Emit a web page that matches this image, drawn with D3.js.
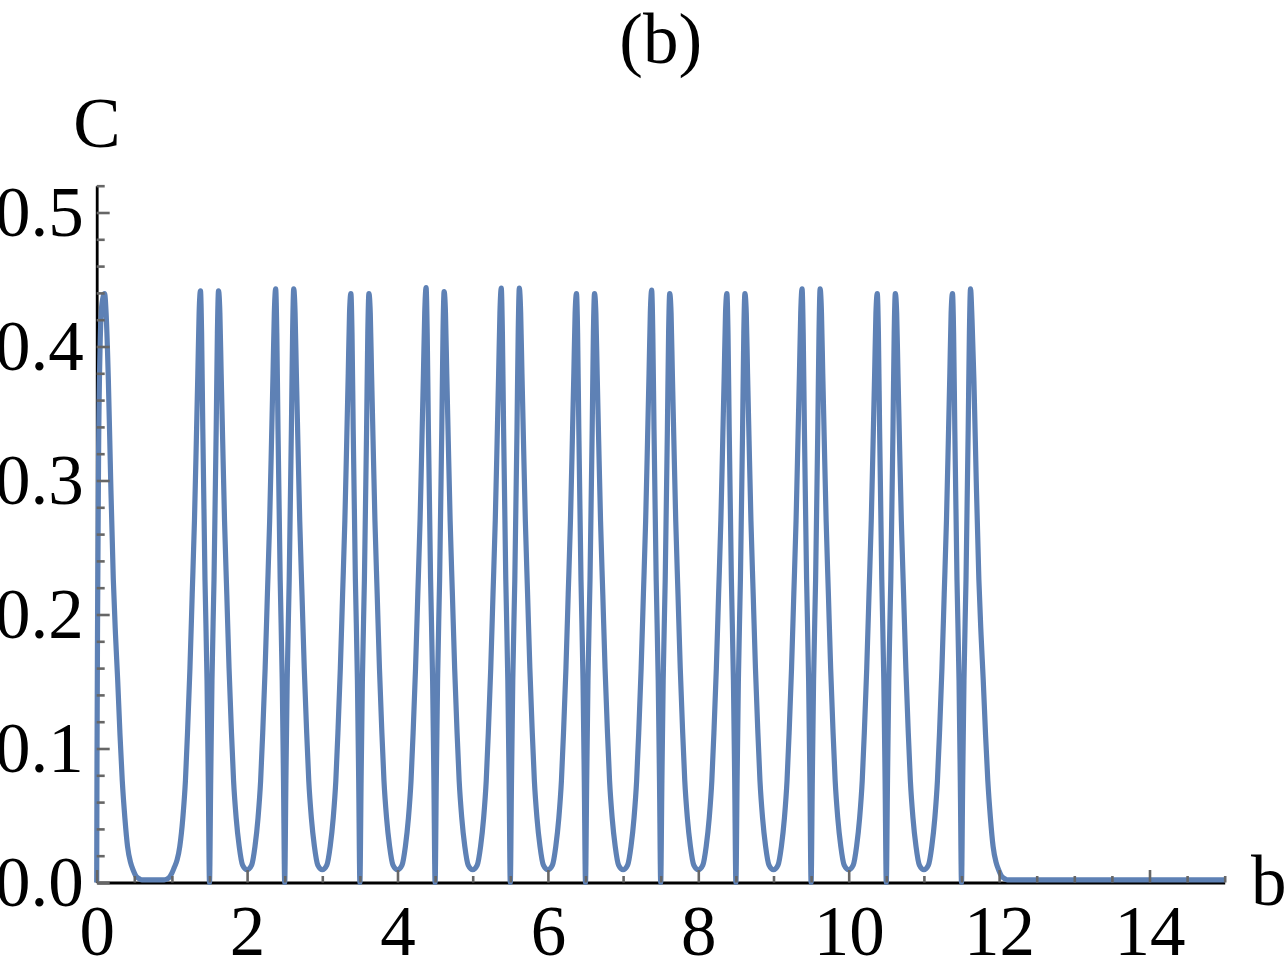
<!DOCTYPE html>
<html><head><meta charset="utf-8">
<script src="https://cdn.jsdelivr.net/npm/d3@7"></script>
<style>html,body{margin:0;padding:0;background:#fff;} svg{display:block;}</style>
</head><body>
<svg id="chart" width="1287" height="959"></svg>
<script>
const title = "(b)";
const xLabel = "b";
const yLabel = "C";
const xMajorTicks = [0, 2, 4, 6, 8, 10, 12, 14];
const xMinorTicks = [0.5, 1, 1.5, 2.5, 3, 3.5, 4.5, 5, 5.5, 6.5, 7, 7.5, 8.5, 9, 9.5, 10.5, 11, 11.5, 12.5, 13, 13.5, 14.5, 15];
const yMajorTicks = [0, 0.1, 0.2, 0.3, 0.4, 0.5];
const yMinorTicks = [0.02, 0.04, 0.06, 0.08, 0.12, 0.14, 0.16, 0.18, 0.22, 0.24, 0.26, 0.28, 0.32, 0.34, 0.36, 0.38, 0.42, 0.44, 0.46, 0.48, 0.52];

const bValues = [
  0,0.004,0.012,0.025,0.045,0.07,0.105,0.125,0.155,0.186,0.221,0.25,0.279,0.31,0.34,0.375,0.41,0.45,0.487,0.52,0.56,0.6,0.9,0.95,0.98,
  1.0,1.03,1.07,1.105,1.145,1.18,1.21,1.24,1.27,1.30,1.325,1.345,1.362,1.38,1.395,1.411,1.44,1.467,1.484,1.5,1.516,1.533,1.56,1.589,1.605,1.62,1.638,1.655,1.675,1.70,1.73,1.76,1.79,1.82,1.855,1.895,1.94,
  2.0,2.06,2.105,2.145,2.18,2.21,2.24,2.27,2.30,2.325,2.345,2.362,2.38,2.395,2.411,2.44,2.467,2.484,2.5,2.516,2.533,2.56,2.589,2.605,2.62,2.638,2.655,2.675,2.70,2.73,2.76,2.79,2.82,2.855,2.895,2.94,
  3.0,3.06,3.105,3.145,3.18,3.21,3.24,3.27,3.30,3.325,3.345,3.362,3.38,3.395,3.411,3.44,3.467,3.484,3.5,3.516,3.533,3.56,3.589,3.605,3.62,3.638,3.655,3.675,3.70,3.73,3.76,3.79,3.82,3.855,3.895,3.94,
  4.0,4.06,4.105,4.145,4.18,4.21,4.24,4.27,4.30,4.325,4.345,4.362,4.38,4.395,4.411,4.44,4.467,4.484,4.5,4.516,4.533,4.56,4.589,4.605,4.62,4.638,4.655,4.675,4.70,4.73,4.76,4.79,4.82,4.855,4.895,4.94,
  5.0,5.06,5.105,5.145,5.18,5.21,5.24,5.27,5.30,5.325,5.345,5.362,5.38,5.395,5.411,5.44,5.467,5.484,5.5,5.516,5.533,5.56,5.589,5.605,5.62,5.638,5.655,5.675,5.70,5.73,5.76,5.79,5.82,5.855,5.895,5.94,
  6.0,6.06,6.105,6.145,6.18,6.21,6.24,6.27,6.30,6.325,6.345,6.362,6.38,6.395,6.411,6.44,6.467,6.484,6.5,6.516,6.533,6.56,6.589,6.605,6.62,6.638,6.655,6.675,6.70,6.73,6.76,6.79,6.82,6.855,6.895,6.94,
  7.0,7.06,7.105,7.145,7.18,7.21,7.24,7.27,7.30,7.325,7.345,7.362,7.38,7.395,7.411,7.44,7.467,7.484,7.5,7.516,7.533,7.56,7.589,7.605,7.62,7.638,7.655,7.675,7.70,7.73,7.76,7.79,7.82,7.855,7.895,7.94,
  8.0,8.06,8.105,8.145,8.18,8.21,8.24,8.27,8.30,8.325,8.345,8.362,8.38,8.395,8.411,8.44,8.467,8.484,8.5,8.516,8.533,8.56,8.589,8.605,8.62,8.638,8.655,8.675,8.70,8.73,8.76,8.79,8.82,8.855,8.895,8.94,
  9.0,9.06,9.105,9.145,9.18,9.21,9.24,9.27,9.30,9.325,9.345,9.362,9.38,9.395,9.411,9.44,9.467,9.484,9.5,9.516,9.533,9.56,9.589,9.605,9.62,9.638,9.655,9.675,9.70,9.73,9.76,9.79,9.82,9.855,9.895,9.94,
  10.0,10.06,10.105,10.145,10.18,10.21,10.24,10.27,10.30,10.325,10.345,10.362,10.38,10.395,10.411,10.44,10.467,10.484,10.5,10.516,10.533,10.56,10.589,10.605,10.62,10.638,10.655,10.675,10.70,10.73,10.76,10.79,10.82,10.855,10.895,10.94,
  11.0,11.06,11.105,11.145,11.18,11.21,11.24,11.27,11.30,11.325,11.345,11.362,11.38,11.395,11.411,11.44,11.467,11.484,11.5,11.516,11.533,11.56,11.589,11.605,11.62,
  11.64,11.665,11.696,11.731,11.76,11.789,11.82,11.85,11.885,11.92,11.96,11.997,12.03,12.07,12.11,15
];
const cValues = [
  0,0.09,0.2,0.32,0.4,0.432,0.4395,0.425,0.375,0.3,0.226,0.185,0.151,0.11,0.076,0.048,0.027,0.015,0.009,0.005,0.003,0.002,0.002,0.003,0.005,
  0.007,0.011,0.017,0.027,0.048,0.076,0.115,0.16,0.215,0.27,0.33,0.38,0.425,0.4415,0.41,0.338,0.226,0.151,0.076,0,0.076,0.151,0.226,0.338,0.41,0.4415,0.425,0.38,0.33,0.27,0.215,0.16,0.115,0.076,0.048,0.027,0.013,
  0.0095,0.013,0.027,0.048,0.076,0.115,0.16,0.215,0.27,0.33,0.38,0.425,0.443,0.41,0.338,0.226,0.151,0.076,0,0.076,0.151,0.226,0.338,0.41,0.443,0.425,0.38,0.33,0.27,0.215,0.16,0.115,0.076,0.048,0.027,0.013,
  0.0095,0.013,0.027,0.048,0.076,0.115,0.16,0.215,0.27,0.33,0.38,0.425,0.4395,0.41,0.338,0.226,0.151,0.076,0,0.076,0.151,0.226,0.338,0.41,0.4395,0.425,0.38,0.33,0.27,0.215,0.16,0.115,0.076,0.048,0.027,0.013,
  0.0095,0.013,0.027,0.048,0.076,0.115,0.16,0.215,0.27,0.33,0.38,0.425,0.444,0.41,0.338,0.226,0.151,0.076,0,0.076,0.151,0.226,0.338,0.41,0.441,0.425,0.38,0.33,0.27,0.215,0.16,0.115,0.076,0.048,0.027,0.013,
  0.0095,0.013,0.027,0.048,0.076,0.115,0.16,0.215,0.27,0.33,0.38,0.425,0.4435,0.41,0.338,0.226,0.151,0.076,0,0.076,0.151,0.226,0.338,0.41,0.4435,0.425,0.38,0.33,0.27,0.215,0.16,0.115,0.076,0.048,0.027,0.013,
  0.0095,0.013,0.027,0.048,0.076,0.115,0.16,0.215,0.27,0.33,0.38,0.425,0.4395,0.41,0.338,0.226,0.151,0.076,0,0.076,0.151,0.226,0.338,0.41,0.4395,0.425,0.38,0.33,0.27,0.215,0.16,0.115,0.076,0.048,0.027,0.013,
  0.0095,0.013,0.027,0.048,0.076,0.115,0.16,0.215,0.27,0.33,0.38,0.425,0.442,0.41,0.338,0.226,0.151,0.076,0,0.076,0.151,0.226,0.338,0.41,0.4395,0.425,0.38,0.33,0.27,0.215,0.16,0.115,0.076,0.048,0.027,0.013,
  0.0095,0.013,0.027,0.048,0.076,0.115,0.16,0.215,0.27,0.33,0.38,0.425,0.4395,0.41,0.338,0.226,0.151,0.076,0,0.076,0.151,0.226,0.338,0.41,0.4395,0.425,0.38,0.33,0.27,0.215,0.16,0.115,0.076,0.048,0.027,0.013,
  0.0095,0.013,0.027,0.048,0.076,0.115,0.16,0.215,0.27,0.33,0.38,0.425,0.443,0.41,0.338,0.226,0.151,0.076,0,0.076,0.151,0.226,0.338,0.41,0.443,0.425,0.38,0.33,0.27,0.215,0.16,0.115,0.076,0.048,0.027,0.013,
  0.0095,0.013,0.027,0.048,0.076,0.115,0.16,0.215,0.27,0.33,0.38,0.425,0.4395,0.41,0.338,0.226,0.151,0.076,0,0.076,0.151,0.226,0.338,0.41,0.4395,0.425,0.38,0.33,0.27,0.215,0.16,0.115,0.076,0.048,0.027,0.013,
  0.0095,0.013,0.027,0.048,0.076,0.115,0.16,0.215,0.27,0.33,0.38,0.425,0.4395,0.41,0.338,0.226,0.151,0.076,0,0.076,0.151,0.226,0.338,0.41,0.443,
  0.42,0.375,0.3,0.226,0.185,0.151,0.11,0.076,0.048,0.027,0.015,0.009,0.005,0.003,0.002,0.002
];

const points = bValues.map((b, i) => [b, cValues[i]]);

const FONT = "'Liberation Serif', 'Times New Roman', Times, serif";
const FS = 71;
const svg = d3.select("#chart");
const x = d3.scaleLinear().domain([0, 15]).range([96.7, 1224.7]);
const y = d3.scaleLinear().domain([0, 0.52]).range([882.5, 185.7]);

// axis lines (domains)
const gxDom = svg.append("g").attr("transform", `translate(0,${y(0)})`)
  .call(d3.axisBottom(x).tickValues([]).tickSizeOuter(0));
const gyDom = svg.append("g").attr("transform", `translate(${x(0)},0)`)
  .call(d3.axisLeft(y).tickValues([]).tickSizeOuter(0));
[gxDom, gyDom].forEach(g => g.select(".domain").attr("stroke", "#000").attr("stroke-width", 2.8));

// curve
svg.append("path")
  .datum(points)
  .attr("fill", "none")
  .attr("stroke", "#5e81b5")
  .attr("stroke-width", 5.2)
  .attr("stroke-linejoin", "round")
  .attr("d", d3.line().x(d => x(d[0])).y(d => y(d[1])).curve(d3.curveMonotoneX));

// ticks
const tickColor = "#666666";
function styleTicks(g) {
  g.select(".domain").remove();
  g.selectAll(".tick line").attr("stroke", tickColor).attr("stroke-width", 2.6);
  g.selectAll("text").attr("font-family", FONT).attr("font-size", FS).attr("fill", "#000");
}
svg.append("g").attr("transform", `translate(0,${y(0)})`)
  .call(d3.axisBottom(x).tickValues(xMinorTicks).tickSize(-6.5).tickFormat(""))
  .call(styleTicks);
svg.append("g").attr("transform", `translate(0,${y(0)})`)
  .call(d3.axisBottom(x).tickValues(xMajorTicks).tickSize(-12.5).tickPadding(22).tickFormat(d3.format("d")))
  .call(styleTicks);
svg.append("g").attr("transform", `translate(${x(0)},0)`)
  .call(d3.axisLeft(y).tickValues(yMinorTicks).tickSize(-8).tickFormat(""))
  .call(styleTicks);
svg.append("g").attr("transform", `translate(${x(0)},0)`)
  .call(d3.axisLeft(y).tickValues(yMajorTicks).tickSize(-13).tickPadding(13).tickFormat(d3.format(".1f")))
  .call(styleTicks);

// labels
svg.append("text").attr("x", 660.7).attr("y", 63).attr("text-anchor", "middle")
  .attr("font-family", FONT).attr("font-size", FS).text(title);
svg.append("text").attr("x", 97).attr("y", 147).attr("text-anchor", "middle")
  .attr("font-family", FONT).attr("font-size", FS).text(yLabel);
svg.append("text").attr("x", 1251).attr("y", 905).attr("text-anchor", "start")
  .attr("font-family", FONT).attr("font-size", FS).text(xLabel);
</script>
</body></html>
